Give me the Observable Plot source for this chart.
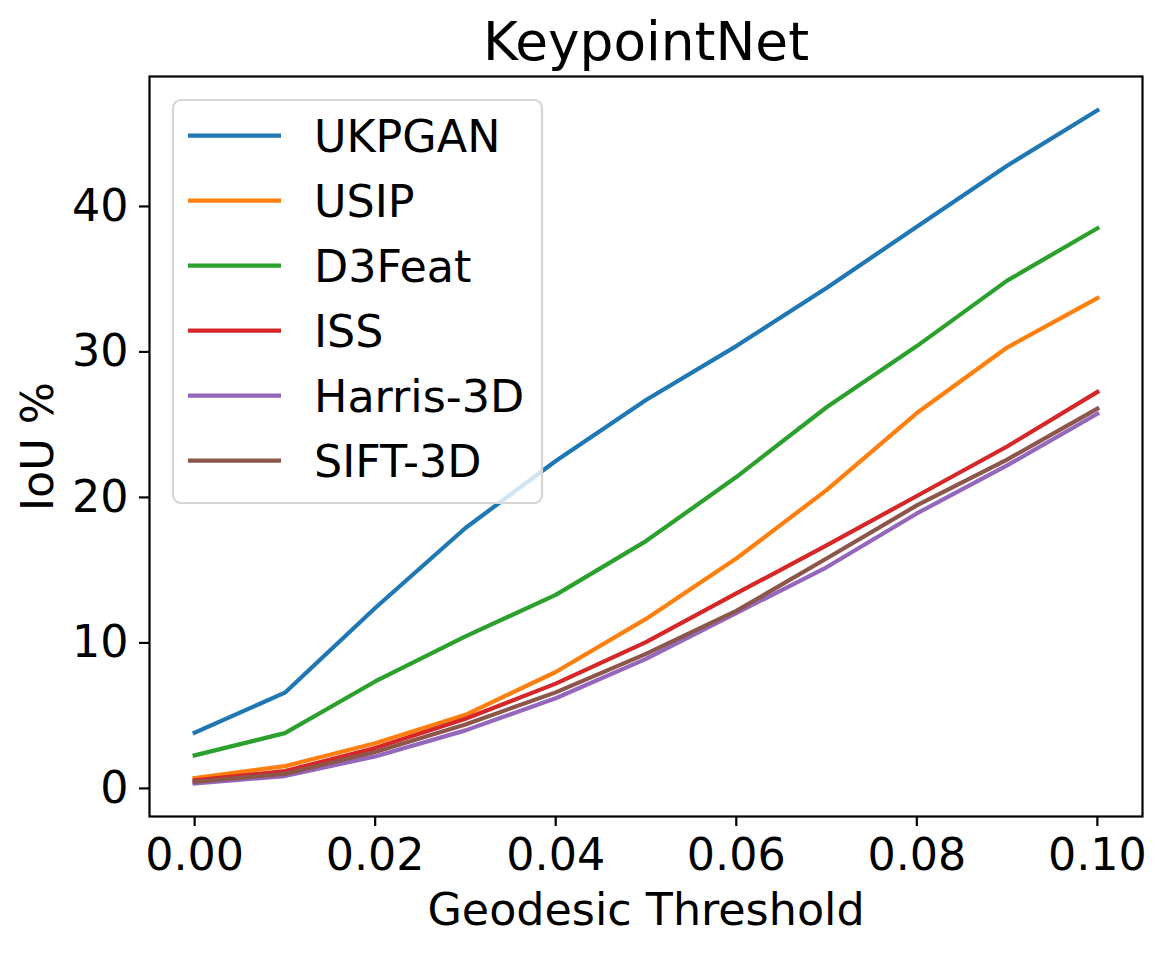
<!DOCTYPE html>
<html>
<head>
<meta charset="utf-8">
<script src="https://cdn.jsdelivr.net/npm/d3@7"></script>
<script src="https://cdn.jsdelivr.net/npm/@observablehq/plot@0.6"></script>
<style>
  html, body { margin: 0; padding: 0; background: white; }
  #chart { position: relative; width: 1166px; height: 953px; }
</style>
</head>
<body>
<div id="chart"></div>
<script>
const thresholds = [0.00, 0.01, 0.02, 0.03, 0.04, 0.05, 0.06, 0.07, 0.08, 0.09, 0.10];
const seriesNames = ["UKPGAN", "USIP", "D3Feat", "ISS", "Harris-3D", "SIFT-3D"];
const seriesColors = ["#1f77b4", "#ff7f0e", "#2ca02c", "#d62728", "#9467bd", "#8c564b"];
const ukpgan  = [3.83, 6.58, 12.4, 17.9, 22.5, 26.7, 30.4, 34.4, 38.6, 42.8, 46.6];
const usip    = [0.71, 1.53, 3.11, 5.06, 8.0, 11.65, 15.8, 20.5, 25.8, 30.3, 33.7];
const d3feat  = [2.27, 3.8, 7.35, 10.45, 13.3, 17.0, 21.4, 26.2, 30.4, 34.9, 38.5];
const iss     = [0.55, 1.19, 2.77, 4.79, 7.2, 10.05, 13.4, 16.7, 20.1, 23.5, 27.25];
const harris  = [0.34, 0.85, 2.2, 3.99, 6.2, 8.9, 12.05, 15.2, 18.9, 22.2, 25.75];
const sift    = [0.46, 1.0, 2.5, 4.4, 6.6, 9.25, 12.2, 15.8, 19.45, 22.6, 26.1];
const xTicks = [0.00, 0.02, 0.04, 0.06, 0.08, 0.10];
const yTicks = [0, 10, 20, 30, 40];
const titleText = "KeypointNet";
const xLabel = "Geodesic Threshold";
const yLabel = "IoU %";

const valuesBySeries = [ukpgan, usip, d3feat, iss, harris, sift];
const data = [];
seriesNames.forEach((name, i) => {
  thresholds.forEach((t, j) => data.push({series: name, x: t, y: valuesBySeries[i][j]}));
});

const font = "DejaVu Sans";
const fs = 44.4;

const chart = Plot.plot({
  width: 1166,
  height: 953,
  marginLeft: 149,
  marginRight: 24,
  marginTop: 76,
  marginBottom: 137,
  style: {fontFamily: font, background: "white", color: "black"},
  x: {domain: [-0.005, 0.105]},
  y: {domain: [-1.93, 48.93]},
  color: {domain: seriesNames, range: seriesColors},
  marks: [
    Plot.line(data, {x: "x", y: "y", z: "series", stroke: "series", strokeWidth: 4.2, strokeLinejoin: "round", strokeLinecap: "square"}),
    Plot.frame({stroke: "black", strokeWidth: 2.2}),
    Plot.axisX({ticks: xTicks, tickFormat: d3.format(".2f"), tickSize: 10, tickPadding: 12, fontSize: fs, strokeWidth: 2.2, label: null}),
    Plot.axisY({ticks: yTicks, tickFormat: d3.format("d"), tickSize: 10, tickPadding: 11, fontSize: fs, strokeWidth: 2.2, label: null}),
    Plot.text([titleText], {text: d => d, frameAnchor: "top", dy: -34, lineAnchor: "middle", fontSize: 53.3}),
    Plot.text([xLabel], {text: d => d, frameAnchor: "bottom", dy: 94, lineAnchor: "middle", fontSize: fs}),
    Plot.text([yLabel], {text: d => d, frameAnchor: "left", dx: -111, rotate: -90, textAnchor: "middle", lineAnchor: "middle", fontSize: fs})
  ]
});

document.getElementById("chart").appendChild(chart);

// Legend (upper left, inside the axes)
const svg = d3.select(chart);
const lg = svg.append("g").attr("font-family", font).attr("font-size", fs).attr("text-anchor", "start");
lg.append("rect")
  .attr("x", 173).attr("y", 100).attr("width", 369).attr("height", 403)
  .attr("rx", 8).attr("ry", 8)
  .attr("fill", "white").attr("fill-opacity", 0.8)
  .attr("stroke", "#d6d6d6").attr("stroke-width", 2.2);
seriesNames.forEach((name, i) => {
  const cy = 135.7 + i * 65;
  lg.append("line")
    .attr("x1", 188).attr("x2", 281).attr("y1", cy).attr("y2", cy)
    .attr("stroke", seriesColors[i]).attr("stroke-width", 4.2);
  lg.append("text")
    .attr("x", 314).attr("y", cy + 0.365 * fs)
    .attr("text-anchor", "start")
    .attr("fill", "black")
    .text(name);
});
</script>
</body>
</html>
